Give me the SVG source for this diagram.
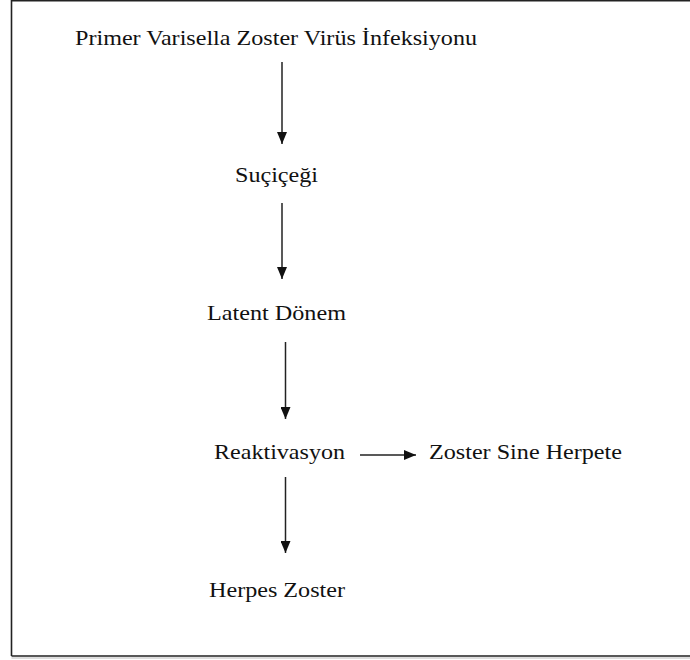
<svg xmlns="http://www.w3.org/2000/svg" width="690" height="660" viewBox="0 0 690 660">
<defs>
<style>
.t{font-family:"Liberation Serif","Times New Roman",serif;font-size:22px;fill:#111;}
.c{stroke:#222;stroke-width:1.5;fill:none;marker-end:url(#ah);}
</style>
<marker id="ah" markerUnits="userSpaceOnUse" markerWidth="12" markerHeight="10" refX="12" refY="5" orient="auto"><path d="M0,0 L12,5 L0,10 z" fill="#111"/></marker>
</defs>
<rect width="690" height="660" fill="#fff"/>
<path d="M11.5,0.75 H690 M11.5,0 V656 M11.5,656 H690" stroke="#222" stroke-width="1.6" fill="none"/>
<path d="M11.5,658 H690" stroke="#bbb" stroke-width="1" fill="none"/>
<g id="n1"><text class="t" x="75" y="45" textLength="402" lengthAdjust="spacingAndGlyphs">Primer Varisella Zoster Virüs İnfeksiyonu</text></g>
<g id="n2"><text class="t" x="235" y="182" textLength="83" lengthAdjust="spacingAndGlyphs">Suçiçeği</text></g>
<g id="n3"><text class="t" x="207" y="320" textLength="139" lengthAdjust="spacingAndGlyphs">Latent Dönem</text></g>
<g id="n4"><text class="t" x="214" y="459" textLength="131" lengthAdjust="spacingAndGlyphs">Reaktivasyon</text></g>
<g id="n5"><text class="t" x="429" y="459" textLength="193" lengthAdjust="spacingAndGlyphs">Zoster Sine Herpete</text></g>
<g id="n6"><text class="t" x="209" y="597" textLength="136" lengthAdjust="spacingAndGlyphs">Herpes Zoster</text></g>
<g id="connectors">
<line class="c" x1="282" y1="62" x2="282" y2="144"/>
<line class="c" x1="282" y1="203" x2="282" y2="279"/>
<line class="c" x1="285.5" y1="342" x2="285.5" y2="419"/>
<line class="c" x1="285.5" y1="477" x2="285.5" y2="553"/>
<line class="c" x1="360" y1="455" x2="416" y2="455"/>
</g>
</svg>
